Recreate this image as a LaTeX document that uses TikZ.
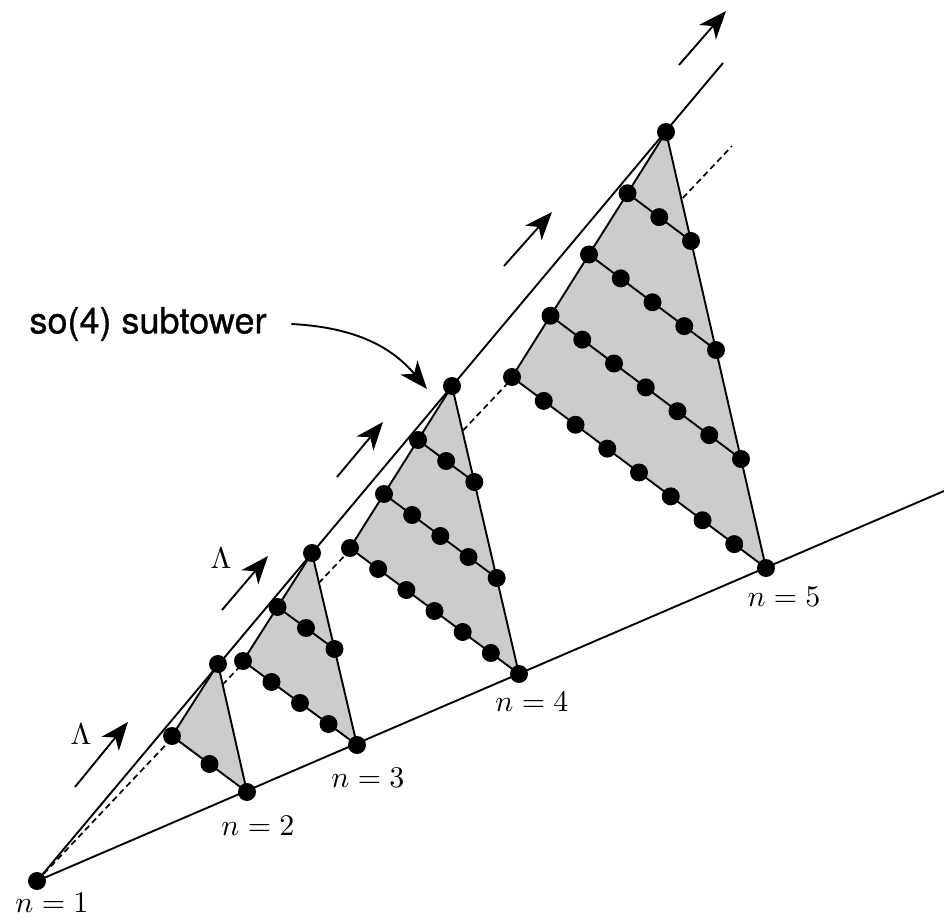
\documentclass[tikz,border=0pt]{standalone}
\usepackage{fontspec}
\setsansfont{TeX Gyre Heros}[FakeBold=0.9]
\usepackage{tikz}
\usetikzlibrary{arrows.meta,calc}

\begin{document}
\begin{tikzpicture}[x=0.5pt, y=0.5pt, line width=0.95pt]
\tikzset{wt/.style={circle, fill=black, minimum size=9pt, inner sep=0pt}}
\tikzset{tower/.style={fill=black!20}}
\tikzset{flow/.style={-{Stealth[length=14pt, width=11pt, inset=4pt]}}}
\tikzset{nlab/.style={inner sep=0pt, scale=1.5, transform shape}}
\useasboundingbox (0,0) rectangle (944,-920);
% the three rays
\coordinate (O) at (37,-881);
\coordinate (up) at (723,-63);
\coordinate (lo) at (944,-491);
\coordinate (mid) at (732,-146);
\draw[line width=0.85pt, dash pattern=on 3pt off 2pt] (O) -- (mid);
\draw (O) -- (up);
\draw (O) -- (lo);
% weight triangles
\foreach \n/\tx/\ty/\lx/\ly/\bx/\by in {2/218/664/172/736/247/792, 3/312/553/243/661/357/745, 4/452/386/350/548/519/674, 5/666/132/512/377/766/568}{
  \pgfmathtruncatemacro\m{\n-1}
  \coordinate (T\n) at (\tx,-\ty);
  \coordinate (L\n) at (\lx,-\ly);
  \coordinate (B\n) at (\bx,-\by);
  \fill[tower] (T\n) -- (L\n) -- (B\n) -- cycle;
  \draw (L\n) -- (T\n) -- (B\n);
  \foreach \k in {1,...,\m}{
    \coordinate (r\n-\k-a) at ($(T\n)!\k/\m!(L\n)$);
    \coordinate (r\n-\k-b) at ($(T\n)!\k/\m!(B\n)$);
    \draw (r\n-\k-a) -- (r\n-\k-b);
  }
  \node[wt] (d\n-0-0) at (T\n) {};
  \foreach \k in {1,...,\m}{
    \pgfmathtruncatemacro\w{2*\k}
    \foreach \j in {0,...,\w}
      \node[wt] (d\n-\k-\j) at ($(r\n-\k-a)!\j/\w!(r\n-\k-b)$) {};
  }
}
\node[wt] (d1) at (O) {};
% labels
\node[nlab] (n1) at (52,-903) {$n=1$};
\node[nlab] (n2) at (258,-826) {$n=2$};
\node[nlab] (n3) at (368,-778) {$n=3$};
\node[nlab] (n4) at (532,-702) {$n=4$};
\node[nlab] (n5) at (784,-597) {$n=5$};
% Lambda arrows
\foreach \i/\ax/\ay/\hx/\hy in {1/75/787/128/722, 2/222/610/268/556, 3/337/477/383/422, 4/504/266/552/212, 5/679/65/726/11}{
  \coordinate (f\i) at (\ax,-\ay);
  \coordinate (h\i) at (\hx,-\hy);
  \draw[flow] (f\i) -- (h\i);
}
\node[nlab] (lam1) at (81,-734) {$\Lambda$};
\node[nlab] (lam2) at (221,-558) {$\Lambda$};
% subtower pointer
\node[font=\sffamily\fontsize{18}{21}\selectfont, inner sep=0pt] (sub) at (148,-324) {so(4) subtower};
\coordinate (subtip) at (427,-389);
\draw[flow] ([xshift=12pt]sub.east) to[out=-3, in=130] (subtip);
\end{tikzpicture}
\end{document}
